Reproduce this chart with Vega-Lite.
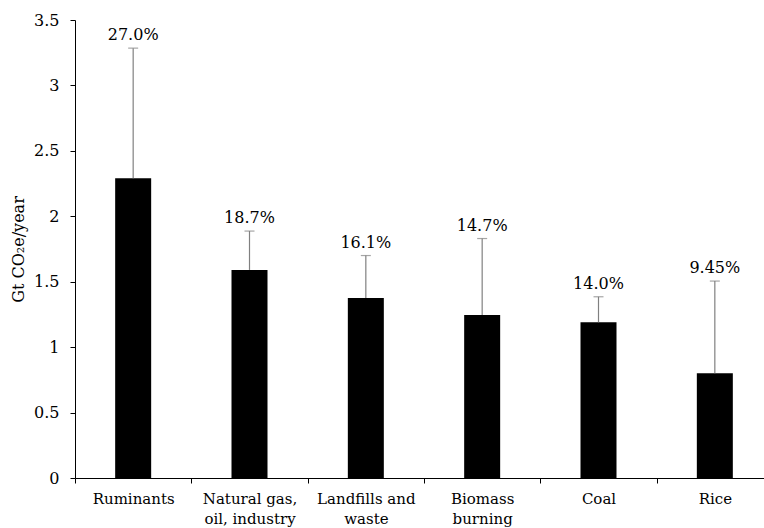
{
  "$schema": "https://vega.github.io/schema/vega-lite/v6.json",
  "width": 689,
  "height": 458,
  "autosize": {"type": "none"},
  "padding": {"left": 75, "top": 20, "right": 0, "bottom": 50},
  "background": "white",
  "config": {
    "view": {"stroke": null},
    "font": "DejaVu Serif",
    "axis": {"labelFont": "DejaVu Serif", "titleFont": "DejaVu Serif"},
    "text": {"font": "DejaVu Serif"}
  },
  "data": {
    "values": [
      {"source": "Ruminants", "value": 2.29, "upper": 3.285, "share": "27.0%"},
      {"source": "Natural gas, oil, industry", "value": 1.59, "upper": 1.887, "share": "18.7%"},
      {"source": "Landfills and waste", "value": 1.375, "upper": 1.70, "share": "16.1%"},
      {"source": "Biomass burning", "value": 1.245, "upper": 1.83, "share": "14.7%"},
      {"source": "Coal", "value": 1.19, "upper": 1.385, "share": "14.0%"},
      {"source": "Rice", "value": 0.80, "upper": 1.505, "share": "9.45%"}
    ]
  },
  "encoding": {
    "x": {
      "field": "source",
      "type": "nominal",
      "sort": null,
      "scale": {"range": [0, 698], "paddingInner": 0, "paddingOuter": 0},
      "axis": {
        "title": null,
        "labelAngle": 0,
        "labelFontSize": 15,
        "labelColor": "black",
        "labelPadding": 8,
        "labelLineHeight": 20,
        "labelBaseline": "top",
        "tickBand": "extent",
        "tickSize": 5,
        "tickColor": "black",
        "domainColor": "black",
        "labelExpr": "datum.label == 'Natural gas, oil, industry' ? ['Natural gas,', 'oil, industry'] : datum.label == 'Landfills and waste' ? ['Landfills and', 'waste'] : datum.label == 'Biomass burning' ? ['Biomass', 'burning'] : datum.label"
      }
    }
  },
  "layer": [
    {
      "mark": {"type": "bar", "color": "black", "width": 36},
      "encoding": {
        "y": {
          "field": "value",
          "type": "quantitative",
          "scale": {"domain": [0, 3.5], "nice": false},
          "axis": {
            "title": "Gt CO₂e/year",
            "titleFontSize": 16,
            "titleFontWeight": "normal",
            "titleColor": "black",
            "titlePadding": 7,
            "values": [0, 0.5, 1, 1.5, 2, 2.5, 3, 3.5],
            "format": "~g",
            "labelFontSize": 16,
            "labelColor": "black",
            "labelPadding": 11,
            "tickSize": 5,
            "tickColor": "black",
            "domainColor": "black",
            "grid": false
          }
        }
      }
    },
    {
      "mark": {"type": "rule", "color": "#808080", "strokeWidth": 1.2},
      "encoding": {
        "y": {"field": "value", "type": "quantitative"},
        "y2": {"field": "upper"}
      }
    },
    {
      "mark": {"type": "tick", "color": "#808080", "size": 10, "thickness": 1.2, "orient": "horizontal"},
      "encoding": {
        "y": {"field": "upper", "type": "quantitative"}
      }
    },
    {
      "mark": {"type": "text", "fontSize": 16, "baseline": "bottom", "dy": -5, "color": "black"},
      "encoding": {
        "y": {"field": "upper", "type": "quantitative"},
        "text": {"field": "share", "type": "nominal"}
      }
    }
  ]
}
